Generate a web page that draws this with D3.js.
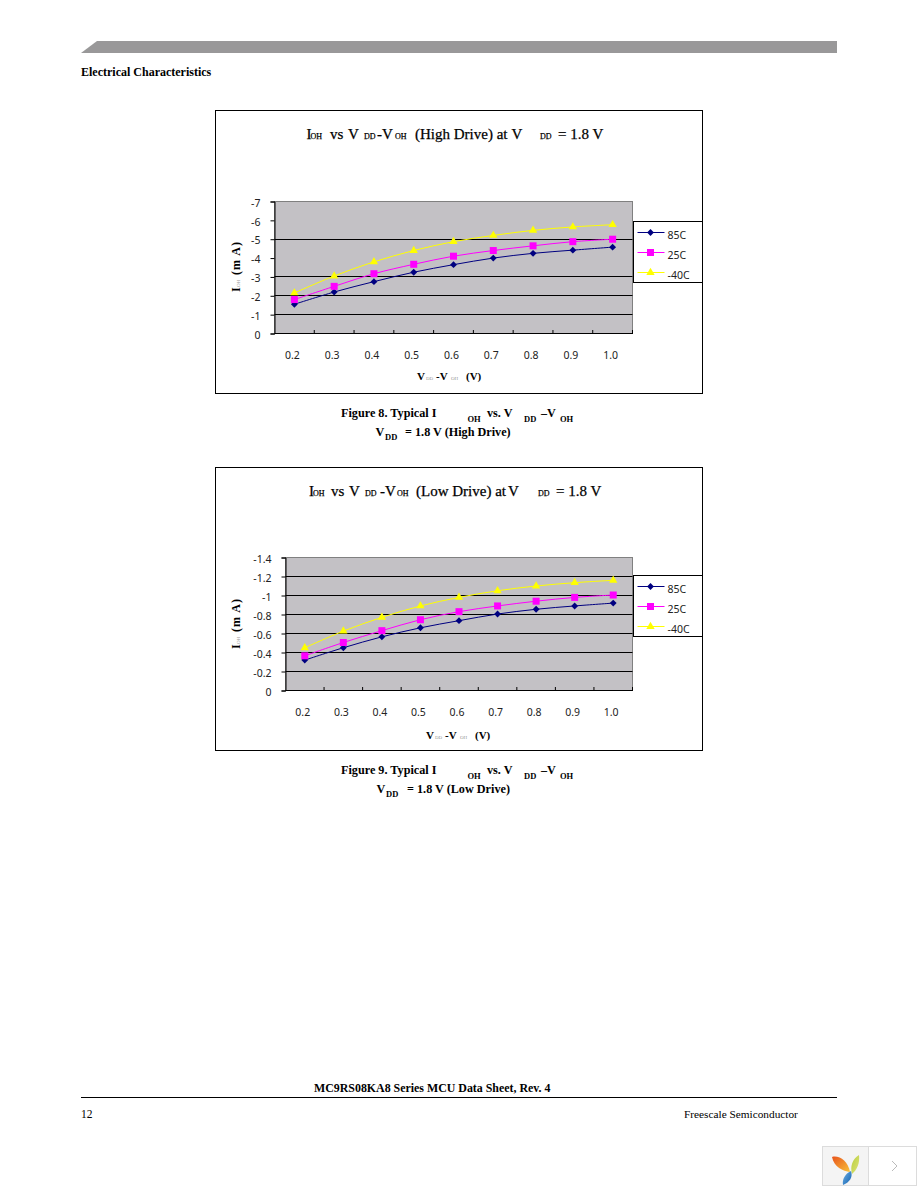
<!DOCTYPE html>
<html>
<head>
<meta charset="utf-8">
<script src="https://cdn.jsdelivr.net/npm/d3@7/dist/d3.min.js"></script>
<style>
  html, body { margin: 0; padding: 0; background: #fff; }
  svg { display: block; }
  text { font-family: "Liberation Serif", serif; fill: #000; }
  .tick text, .legend-label { font-family: "Noto Sans", sans-serif; font-size: 10.5px; fill: #222; }
  .chart-title text { stroke: #000; stroke-width: 0.25px; }
</style>
</head>
<body>
<svg id="page" width="918" height="1188"></svg>
<script>
// Values
const voltages = ["0.2", "0.3", "0.4", "0.5", "0.6", "0.7", "0.8", "0.9", "1.0"];
const seriesNames = ["85C", "25C", "-40C"];
const seriesColors = ["#000080", "#ff00ff", "#ffff00"];

const high85 = [-1.55, -2.2, -2.75, -3.25, -3.65, -4.0, -4.25, -4.42, -4.58];
const high25 = [-1.8, -2.5, -3.17, -3.67, -4.1, -4.4, -4.65, -4.87, -5.0];
const highM40 = [-2.15, -3.05, -3.8, -4.4, -4.87, -5.2, -5.47, -5.65, -5.77];
const highTicks = [0, -1, -2, -3, -4, -5, -6, -7];
const highGrid = [-1, -2, -3, -5];

const low85 = [-0.32, -0.45, -0.565, -0.66, -0.735, -0.805, -0.855, -0.89, -0.92];
const low25 = [-0.365, -0.505, -0.63, -0.745, -0.83, -0.89, -0.94, -0.98, -1.005];
const lowM40 = [-0.45, -0.625, -0.77, -0.89, -0.98, -1.05, -1.1, -1.135, -1.16];
const lowTicks = [0, -0.2, -0.4, -0.6, -0.8, -1, -1.2, -1.4];
const lowGrid = [-0.2, -0.4, -0.6, -0.8, -1, -1.2];

const svg = d3.select("#page");

// Text pieces: [x, string, size, dy, bold, colour]
function pieces(g, items, y) {
  items.forEach(p => {
    g.append("text")
      .attr("x", p[0])
      .attr("y", y + (p[3] || 0))
      .attr("font-size", p[2])
      .attr("font-weight", p[4] ? "bold" : "normal")
      .style("fill", p[5] || "#000")
      .text(p[1]);
  });
}

function drawChart(opt) {
  const top = opt.top;
  const g = svg.append("g");

  // outer frame
  g.append("rect")
    .attr("x", 215.5).attr("y", top + 0.5)
    .attr("width", 487).attr("height", 283)
    .attr("fill", "#fff").attr("stroke", "#000");

  pieces(g.append("g").attr("class", "chart-title"), opt.title, top + 29);

  const x = d3.scaleBand().domain(voltages).range([opt.left, 632.5]);
  const y = d3.scaleLinear().domain([0, opt.yMin]).range(opt.yRange);

  // plot area
  g.append("rect")
    .attr("x", opt.left).attr("y", y(opt.yMin))
    .attr("width", 632.5 - opt.left).attr("height", y(0) - y(opt.yMin))
    .attr("fill", "#c3c1c5").attr("stroke", "#808080");

  g.selectAll(".grid").data(opt.grid).enter().append("line")
    .attr("class", "grid")
    .attr("x1", opt.left).attr("x2", 632.5)
    .attr("y1", d => Math.floor(y(d)) + 0.5).attr("y2", d => Math.floor(y(d)) + 0.5)
    .attr("stroke", "#000");

  // y axis
  const yAxis = d3.axisLeft(y).tickValues(opt.ticks).tickSize(4).tickPadding(10)
    .tickFormat(d => String(d));
  const ya = g.append("g").attr("transform", `translate(${opt.left},0)`).call(yAxis);
  ya.selectAll("text").attr("dy", "0.45em");

  // x axis: ticks sit on category boundaries and point into the plot
  const xa = g.append("g").attr("transform", `translate(0,${y(0)})`);
  xa.append("line").attr("x1", opt.left).attr("x2", 633).attr("stroke", "#000");
  const edges = voltages.map(v => x(v) + x.bandwidth());
  xa.selectAll(".xt").data(edges).enter().append("line")
    .attr("class", "xt")
    .attr("x1", d => d).attr("x2", d => d)
    .attr("y1", -3.5).attr("y2", 0)
    .attr("stroke", "#000");
  const tickG = xa.selectAll(".tick").data(voltages).enter().append("g").attr("class", "tick");
  tickG.append("text")
    .attr("x", d => x(d) + x.bandwidth() / 2 - 2)
    .attr("y", 25)
    .attr("text-anchor", "middle")
    .text(d => d);

  // series
  const line = d3.line()
    .x((d, i) => x(voltages[i]) + x.bandwidth() / 2)
    .y(d => y(d))
    .curve(d3.curveCatmullRom.alpha(0.5));
  const symbols = [
    d3.symbol().type(d3.symbolDiamond2).size(30),
    d3.symbol().type(d3.symbolSquare).size(49),
    d3.symbol().type(d3.symbolTriangle).size(30)
  ];
  opt.series.forEach((vals, k) => {
    g.append("path").attr("d", line(vals))
      .attr("fill", "none").attr("stroke", seriesColors[k]).attr("stroke-width", 1);
    g.selectAll(".m" + k).data(vals).enter().append("path")
      .attr("class", "m" + k)
      .attr("d", symbols[k]())
      .attr("fill", seriesColors[k])
      .attr("transform", (d, i) => `translate(${x(voltages[i]) + x.bandwidth() / 2},${y(d)})`);
  });

  // legend
  const lg = g.append("g").attr("transform", `translate(633.5,${opt.legendTop})`);
  lg.append("rect").attr("width", 69).attr("height", 61)
    .attr("fill", "#fff").attr("stroke", "#000");
  seriesNames.forEach((name, k) => {
    const ly = 11 + k * 20;
    lg.append("line").attr("x1", 4).attr("x2", 31).attr("y1", ly).attr("y2", ly)
      .attr("stroke", seriesColors[k]);
    lg.append("path").attr("d", symbols[k]())
      .attr("fill", seriesColors[k])
      .attr("transform", `translate(17,${ly})`);
    lg.append("text").attr("class", "legend-label")
      .attr("x", 34).attr("y", ly + 6).text(name);
  });

  // axis titles
  pieces(g, opt.xTitle, top + 270);
  const yt = g.append("g").attr("transform", `translate(239.5,${top + 157}) rotate(-90)`);
  yt.append("text").attr("x", -25).attr("font-size", 12).attr("font-weight", "bold").text("I");
  yt.append("text").attr("x", -20).attr("font-size", 5).style("fill", "#999").text("OH");
  yt.append("text").attr("x", -8).attr("font-size", 12).attr("font-weight", "bold")
    .attr("textLength", 33).text("(m A)");

  // caption below the frame
  pieces(g, opt.caption1, top + 307);
  pieces(g, opt.caption2, top + 326);
}

// page furniture
svg.append("polygon")
  .attr("points", "81,53 97,41 837,41 837,53")
  .attr("fill", "#999899");
svg.append("text").attr("x", 81).attr("y", 76)
  .attr("font-size", 12).attr("font-weight", "bold").text("Electrical Characteristics");

drawChart({
  top: 110, left: 274.5, yMin: -7, yRange: [333.5, 201.5], legendTop: 221.5,
  ticks: highTicks, grid: highGrid, series: [high85, high25, highM40],
  title: [
    [306.5, "I", 15], [310.5, "OH", 8], [330, "vs", 15], [348, "V", 15], [364, "DD", 8],
    [377, "-V", 15], [395, "OH", 8], [415, "(High Drive) at", 15], [511.5, "V", 15],
    [540, "DD", 8], [558, "= 1.8 V", 15]
  ],
  xTitle: [
    [417, "V", 11, 0, true], [426, "DD", 5, 0, false, "#999"], [436, "-V", 11, 0, true],
    [451, "OH", 5, 0, false, "#999"], [466, "(V)", 11, 0, true]
  ],
  caption1: [
    [341, "Figure 8. Typical I", 12.2, 0, true], [467.5, "OH", 8.5, 5, true], [487, "vs. V", 12.2, 0, true],
    [524, "DD", 8.5, 5, true], [541, "–V", 12.2, 0, true], [560, "OH", 8.5, 5, true]
  ],
  caption2: [
    [375.5, "V", 12.2, 0, true], [385, "DD", 8.5, 4, true], [405, "= 1.8 V (High Drive)", 12.2, 0, true]
  ]
});

drawChart({
  top: 467, left: 285.5, yMin: -1.4, yRange: [690.5, 557.5], legendTop: 575.5,
  ticks: lowTicks, grid: lowGrid, series: [low85, low25, lowM40],
  title: [
    [309, "I", 15], [313, "OH", 8], [331, "vs", 15], [349, "V", 15], [365, "DD", 8],
    [380, "-V", 15], [397, "OH", 8], [416, "(Low Drive) at", 15], [508, "V", 15],
    [538, "DD", 8], [556, "= 1.8 V", 15]
  ],
  xTitle: [
    [426, "V", 11, 2, true], [435, "DD", 5, 2, false, "#999"], [445, "-V", 11, 2, true],
    [460, "OH", 5, 2, false, "#999"], [475, "(V)", 11, 2, true]
  ],
  caption1: [
    [341, "Figure 9. Typical I", 12.2, 0, true], [467.5, "OH", 8.5, 5, true], [487, "vs. V", 12.2, 0, true],
    [524, "DD", 8.5, 5, true], [541, "–V", 12.2, 0, true], [560, "OH", 8.5, 5, true]
  ],
  caption2: [
    [376.5, "V", 12.2, 0, true], [386, "DD", 8.5, 4, true], [407, "= 1.8 V (Low Drive)", 12.2, 0, true]
  ]
});

// footer
svg.append("text").attr("x", 314).attr("y", 1092)
  .attr("font-size", 11.9).attr("font-weight", "bold").text("MC9RS08KA8 Series MCU Data Sheet, Rev. 4");
svg.append("line").attr("x1", 81).attr("x2", 837).attr("y1", 1097.5).attr("y2", 1097.5).attr("stroke", "#000");
svg.append("text").attr("x", 81).attr("y", 1118).attr("font-size", 11.5).text("12");
svg.append("text").attr("x", 684).attr("y", 1118).attr("font-size", 11.3).text("Freescale Semiconductor");

// viewer widget in the bottom right corner
const defs = svg.append("defs");
function leafGradient(id, c1, c2) {
  const lg = defs.append("linearGradient").attr("id", id)
    .attr("x1", "0").attr("y1", "0").attr("x2", "1").attr("y2", "1");
  lg.append("stop").attr("offset", "0").attr("stop-color", c1);
  lg.append("stop").attr("offset", "1").attr("stop-color", c2);
}
leafGradient("leafOrange", "#e8541c", "#f8c23a");
leafGradient("leafGreen", "#b7cf3c", "#e0e27a");
leafGradient("leafBlue", "#6fb1e6", "#0f5fae");

svg.append("rect").attr("x", 822.5).attr("y", 1146.5).attr("width", 46).attr("height", 39)
  .attr("fill", "#f4f4f4").attr("stroke", "#dcdcdc");
svg.append("rect").attr("x", 868.5).attr("y", 1146.5).attr("width", 48).attr("height", 39)
  .attr("fill", "#fff").attr("stroke", "#dcdcdc");
svg.append("path").attr("d", "M832,1157 C839,1155 848,1161 850,1172 C843,1171 834,1167 832,1157 Z")
  .attr("fill", "url(#leafOrange)");
svg.append("path").attr("d", "M859,1155 C860,1163 857,1170 852,1174 C850,1167 852,1159 859,1155 Z")
  .attr("fill", "url(#leafGreen)");
svg.append("path").attr("d", "M851,1171 C853,1177 850,1182 843,1185 C842,1179 845,1174 851,1171 Z")
  .attr("fill", "url(#leafBlue)");
svg.append("path").attr("d", "M892,1161 L897,1166 L892,1171")
  .attr("fill", "none").attr("stroke", "#bbb");
</script>
</body>
</html>
